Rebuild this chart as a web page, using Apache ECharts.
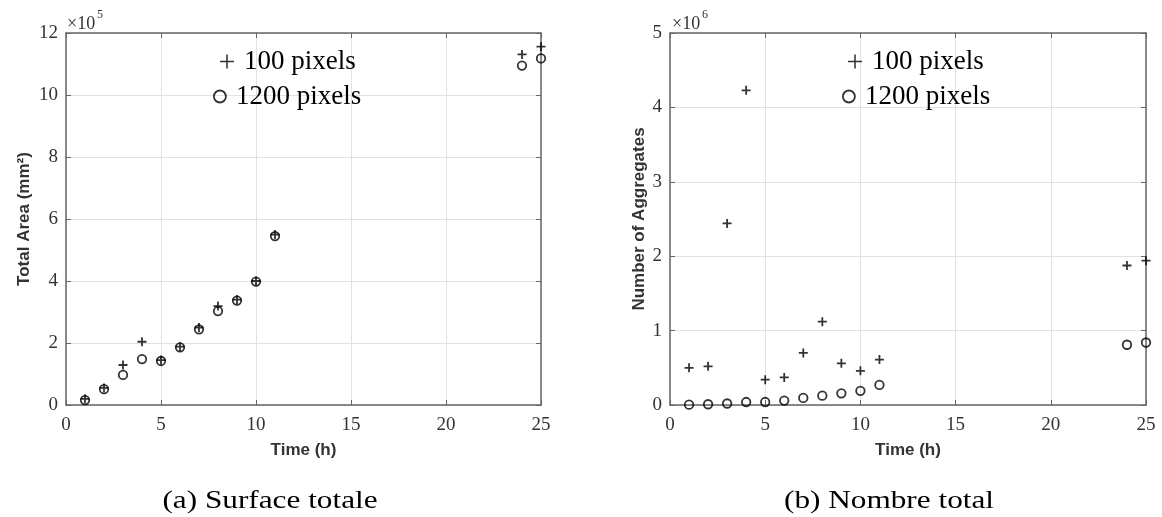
<!DOCTYPE html>
<html><head><meta charset="utf-8">
<script src="https://cdn.jsdelivr.net/npm/echarts@6/dist/echarts.min.js"></script>
<style>html,body{margin:0;padding:0;background:#fff}#c{width:1162px;height:517px}</style>
</head><body><div id="c"></div>
<script>
// ---- data ----
const hours = [1, 2, 3, 4, 5, 6, 7, 8, 9, 10, 11, 24, 25];
const area100 = [0.20, 0.55, 1.29, 2.04, 1.45, 1.88, 2.50, 3.19, 3.40, 4.00, 5.50, 11.31, 11.56];   // x10^5 mm^2
const area1200 = [0.16, 0.51, 0.97, 1.48, 1.42, 1.86, 2.44, 3.03, 3.37, 3.98, 5.45, 10.95, 11.18]; // x10^5 mm^2
const count100 = [0.50, 0.52, 2.44, 4.23, 0.34, 0.37, 0.70, 1.12, 0.56, 0.46, 0.61, 1.875, 1.94];   // x10^6
const count1200 = [0.005, 0.01, 0.02, 0.04, 0.04, 0.06, 0.095, 0.125, 0.157, 0.19, 0.27, 0.81, 0.84]; // x10^6
const xTicks = [0, 5, 10, 15, 20, 25];
const areaTicks = [0, 2, 4, 6, 8, 10, 12];
const countTicks = [0, 1, 2, 3, 4, 5];
const seriesNames = ['100 pixels', '1200 pixels'];
const captions = ['(a) Surface totale', '(b) Nombre total'];
const multipliers = ['5', '6'];

// ---- styles ----
const serif = 'Liberation Serif';
const sans = 'Liberation Sans';
const axisColor = '#666';
const gridColor = '#e2e2e2';
const labelColor = '#333';
const plusPath = 'path://M0,4h10v2h-10zM4,0h2v10h-2z';
const plusLegend = 'path://M0,4.45h10v1.1h-10zM4.45,0h1.1v10h-1.1z';

function pts(xs, ys) { return xs.map((x, i) => [x, ys[i]]); }
function step(t) { return t[1] - t[0]; }

function xAxisPair(gi) {
  const base = {
    type: 'value', gridIndex: gi,
    min: xTicks[0], max: xTicks[xTicks.length - 1], interval: step(xTicks),
    axisLine: { show: true, onZero: false, lineStyle: { color: axisColor, width: 1.5 } },
    axisTick: { show: true, inside: true, length: 5, lineStyle: { color: axisColor } }
  };
  return [
    Object.assign({}, base, {
      position: 'bottom',
      name: 'Time (h)', nameLocation: 'middle', nameGap: 37,
      nameTextStyle: { fontFamily: sans, fontWeight: 'bold', fontSize: 17, color: labelColor },
      axisLabel: { fontFamily: serif, fontSize: 19, color: labelColor, margin: 11 },
      splitLine: { show: true, lineStyle: { color: gridColor, width: 1 } }
    }),
    Object.assign({}, base, {
      position: 'top', axisLabel: { show: false }, splitLine: { show: false }
    })
  ];
}
function yAxisPair(gi, ticks, name, gap) {
  const base = {
    type: 'value', gridIndex: gi,
    min: ticks[0], max: ticks[ticks.length - 1], interval: step(ticks),
    axisLine: { show: true, onZero: false, lineStyle: { color: axisColor, width: 1.5 } },
    axisTick: { show: true, inside: true, length: 5, lineStyle: { color: axisColor } }
  };
  return [
    Object.assign({}, base, {
      position: 'left',
      name: name, nameLocation: 'middle', nameGap: gap,
      nameTextStyle: { fontFamily: sans, fontWeight: 'bold', fontSize: 17, color: labelColor },
      axisLabel: { fontFamily: serif, fontSize: 19, color: labelColor, margin: 8 },
      splitLine: { show: true, lineStyle: { color: gridColor, width: 1 } }
    }),
    Object.assign({}, base, {
      position: 'right', axisLabel: { show: false }, splitLine: { show: false }
    })
  ];
}

function plusSeries(xi, yi, data) {
  return {
    name: seriesNames[0], type: 'scatter', xAxisIndex: xi, yAxisIndex: yi,
    data: data, symbol: plusPath, symbolSize: 9,
    itemStyle: { color: '#000' }, z: 3
  };
}
function circleSeries(xi, yi, data) {
  return {
    name: seriesNames[1], type: 'scatter', xAxisIndex: xi, yAxisIndex: yi,
    data: data, symbol: 'circle', symbolSize: 8.5,
    itemStyle: { color: 'rgba(0,0,0,0)', borderColor: '#000', borderWidth: 1.8 }, z: 4
  };
}

function legendItem(name, icon, left, top, size) {
  return {
    data: [{ name: name, icon: icon }],
    left: left, top: top, padding: 0,
    itemWidth: size, itemHeight: size,
    selectedMode: false,
    itemStyle: name === seriesNames[1] ? { borderWidth: 1.8, borderColor: '#000', color: 'rgba(0,0,0,0)' } : { color: '#000' },
    textStyle: { fontFamily: serif, fontSize: 27, color: '#000', padding: [0, 0, 0, 5] }
  };
}

function multiplierText(x, exp) {
  return [
    { type: 'text', x: x, y: 24, style: { text: '\u00d710', fontFamily: serif, fontSize: 18, fill: labelColor, align: 'left', verticalAlign: 'middle', textAlign: 'left', textVerticalAlign: 'middle' } },
    { type: 'text', x: x + 30, y: 15, style: { text: exp, fontFamily: serif, fontSize: 12, fill: labelColor, align: 'left', verticalAlign: 'middle', textAlign: 'left', textVerticalAlign: 'middle' } }
  ];
}
function captionText(x, text) {
  return { type: 'text', x: x, y: 501, scaleX: 1.25,
    style: { text: text, fontFamily: serif, fontSize: 25, fill: '#000', align: 'center', verticalAlign: 'middle', textAlign: 'center', textVerticalAlign: 'middle' } };
}

const xs = xAxisPair(0).concat(xAxisPair(1));
const ys = yAxisPair(0, areaTicks, 'Total Area (mm\u00b2)', 33)
  .concat(yAxisPair(1, countTicks, 'Number of Aggregates', 22));

const option = {
  animation: false,
  backgroundColor: '#fff',
  grid: [
    { left: 66, top: 33, width: 475, height: 372 },
    { left: 670, top: 33, width: 476, height: 372 }
  ],
  xAxis: xs,
  yAxis: ys,
  legend: [
    legendItem(seriesNames[0], plusLegend, 220, 48, 14),
    legendItem(seriesNames[1], 'circle', 213, 83, 12),
    legendItem(seriesNames[0], plusLegend, 848, 48, 14),
    legendItem(seriesNames[1], 'circle', 842, 83, 12)
  ],
  series: [
    plusSeries(0, 0, pts(hours, area100)),
    circleSeries(0, 0, pts(hours, area1200)),
    plusSeries(2, 2, pts(hours, count100)),
    circleSeries(2, 2, pts(hours, count1200))
  ],
  graphic: [].concat(
    multiplierText(67, multipliers[0]),
    multiplierText(672, multipliers[1]),
    [captionText(270, captions[0]), captionText(889, captions[1])]
  )
};

const chart = echarts.init(document.getElementById('c'));
chart.setOption(option);
</script>
</body></html>
